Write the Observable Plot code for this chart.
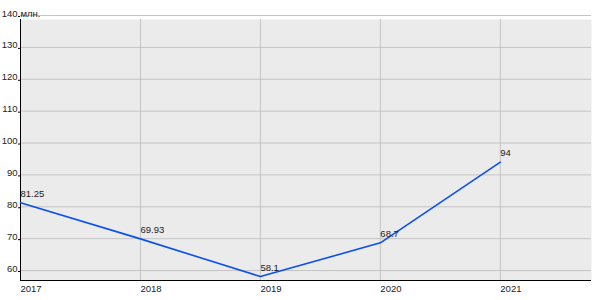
<!DOCTYPE html>
<html>
<head>
<meta charset="utf-8">
<script src="https://cdn.jsdelivr.net/npm/d3@7"></script>
<script src="https://cdn.jsdelivr.net/npm/@observablehq/plot@0.6"></script>
<style>
  html, body { margin: 0; padding: 0; background: #fff; }
  #chart { width: 600px; height: 300px; }
</style>
</head>
<body>
<div id="chart"></div>
<script>
const years = [2017, 2018, 2019, 2020, 2021];
const values = [81.25, 69.93, 58.1, 68.7, 94];
const yTicks = [60, 70, 80, 90, 100, 110, 120, 130, 140];
const unitLabel = "млн.";

const data = years.map((year, i) => ({year, value: values[i]}));

const yMin = 56.875, yMax = 138.75;
const xMin = 2017, xMax = 2021.76;

const chart = Plot.plot({
  width: 600,
  height: 300,
  marginLeft: 20,
  marginRight: 9,
  marginTop: 19,
  marginBottom: 20,
  style: {fontFamily: "'Liberation Sans', Arial, sans-serif", fontSize: "9px", background: "#fff", color: "#222"},
  x: {domain: [xMin, xMax], label: null},
  y: {domain: [yMin, yMax], label: null},
  marks: [
    Plot.frame({fill: "#ebebeb", stroke: null}),
    Plot.gridX(years, {stroke: "#c4c4c4", strokeOpacity: 1, strokeWidth: 1}),
    Plot.gridY(yTicks, {stroke: "#c4c4c4", strokeOpacity: 1, strokeWidth: 1, x1: xMin, x2: xMax}),
    Plot.ruleX([xMin], {stroke: "#000", strokeWidth: 1}),
    Plot.ruleY([yMin], {stroke: "#000", strokeWidth: 1}),
    Plot.axisY({ticks: yTicks, label: null, tickSize: 2, tickPadding: 1, lineAnchor: "bottom", dy: 1, stroke: "#000", fill: "#222", tickFormat: d => String(d), fontSize: 9.5}),
    Plot.text([unitLabel], {frameAnchor: "left", y: yTicks[yTicks.length - 1], text: d => d, textAnchor: "start", lineAnchor: "bottom", dy: 1, fill: "#222", fontSize: 9.5}),
    Plot.axisX({ticks: years, label: null, tickSize: 0, tickPadding: 5, textAnchor: "start", tickFormat: d => String(d), fill: "#222", fontSize: 9.5}),
    Plot.line(data, {x: "year", y: "value", stroke: "#0a4ff0", strokeWidth: 1.6}),
    Plot.text(data, {x: "year", y: "value", text: d => String(d.value), textAnchor: "start", lineAnchor: "bottom", dy: -6, fill: "#222", fontSize: 9.5})
  ]
});
document.getElementById("chart").appendChild(chart);
</script>
</body>
</html>
